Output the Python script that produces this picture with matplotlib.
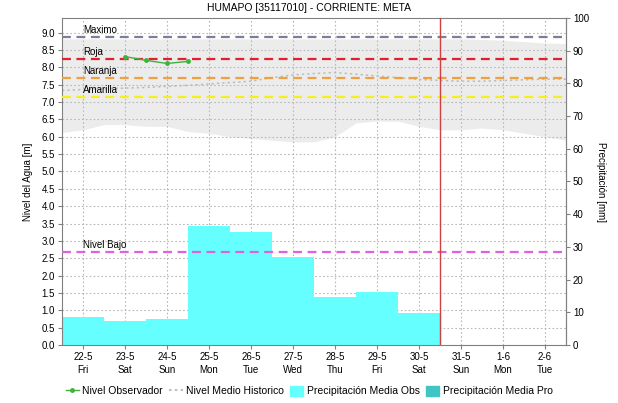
import matplotlib
matplotlib.use("Agg")
import matplotlib.pyplot as plt
import numpy as np


# ------------------ DATA ------------------

day_labels = ["22-5\nFri", "23-5\nSat", "24-5\nSun", "25-5\nMon", "26-5\nTue", "27-5\nWed",
              "28-5\nThu", "29-5\nFri", "30-5\nSat", "31-5\nSun", "1-6\nMon", "2-6\nTue"]

# precipitation observed per day [mm] (22-5 .. 30-5)
precip_obs = [8.6, 7.4, 7.8, 36.5, 34.5, 26.8, 14.8, 16.3, 9.7]

# observed level (every 12 h from 23-5)
obs_x = [1.0, 1.5, 2.0, 2.5]
obs_level = [8.31, 8.20, 8.11, 8.17]

# historic band / mean, sampled every half day
hist_x = [-0.5, 0, 0.5, 1, 1.5, 2, 2.5, 3, 3.5, 4, 4.5, 5, 5.5, 6, 6.5, 7, 7.5,
          8, 8.5, 9, 9.5, 10, 10.5, 11, 11.5]
hist_low = [6.12, 6.2, 6.35, 6.35, 6.3, 6.3, 6.15, 6.1, 6.0, 5.95, 5.9, 5.85, 5.85,
            6.0, 6.4, 6.45, 6.45, 6.3, 6.2, 6.2, 6.25, 6.2, 6.1, 6.0, 5.9]
hist_high = [8.82, 8.82, 8.82, 8.82, 8.82, 8.82, 8.82, 8.82, 8.82, 8.82, 8.82, 8.82, 8.82,
             8.82, 8.82, 8.82, 8.82, 8.82, 8.82, 8.82, 8.8, 8.78, 8.74, 8.7, 8.68]
hist_mean = [7.33, 7.36, 7.38, 7.40, 7.42, 7.45, 7.48, 7.52, 7.56, 7.6, 7.7, 7.78, 7.82,
             7.85, 7.8, 7.75, 7.7, 7.65, 7.62, 7.6, 7.6, 7.62, 7.64, 7.66, 7.66]

# alert thresholds [m]
thresholds = {
    "Maximo": (8.86, "#7a7f9a"),
    "Roja": (8.25, "#e0202a"),
    "Naranja": (7.69, "#f0a040"),
    "Amarilla": (7.14, "#f4f020"),
    "Nivel Bajo": (2.67, "#e060e0"),
}

now_day = 8.5
LEVEL_TOP = 9.42      # left axis top, equals 100 mm on the right axis
PRECIP_TOP = 100.0


# ------------------ PLOT ------------------

plt.rcParams["font.family"] = ["Liberation Sans", "DejaVu Sans"]
plt.rcParams["font.size"] = 7

fig = plt.figure(figsize=(6.18, 4.03), dpi=100)
ax = fig.add_axes([62 / 618, 1 - 345 / 403, (566 - 62) / 618, (345 - 18) / 403])

k = LEVEL_TOP / PRECIP_TOP
days = np.arange(len(day_labels))

ax.fill_between(hist_x, hist_low, hist_high, color="#ececec", lw=0, zorder=0.2)

ax.bar(np.arange(len(precip_obs)), np.array(precip_obs) * k, width=1.0,
       color="#66ffff", lw=0, zorder=1)

ax.plot(hist_x, hist_mean, color="#bcbcbc", ls=(0, (1.5, 2)), lw=1.1, zorder=2)

for name, (lvl, col) in thresholds.items():
    ax.axhline(lvl, color=col, ls=(0, (4, 2.5)), lw=1.6, zorder=3)
    ax.text(0, lvl + 0.06, name, ha="left", va="bottom", fontsize=7, zorder=4)

ax.plot(obs_x, obs_level, color="#3cb43c", lw=1, marker="o", ms=2.5, zorder=5)

ax.axvline(now_day, color="#d04040", lw=1, zorder=5)

ax.set_xlim(-0.5, 11.5)
ax.set_ylim(0, LEVEL_TOP)
ax.set_xticks(days)
ax.set_xticklabels(day_labels, linespacing=1.4)
ax.set_yticks(np.arange(0, 9.01, 0.5))
ax.set_yticklabels([f"{v:.1f}" for v in np.arange(0, 9.01, 0.5)])
ax.set_axisbelow(True)
ax.grid(True, color="#b8b8b8", ls=(0, (1.5, 2)), lw=0.8)
ax.tick_params(length=3, color="#808080", pad=2)
for sp in ax.spines.values():
    sp.set_color("#808080")
ax.set_ylabel("Nivel del Agua [m]", labelpad=6)

sec = ax.secondary_yaxis("right", functions=(lambda m: m / k, lambda p: p * k))
sec.set_yticks(np.arange(0, 101, 10))
sec.tick_params(length=3, color="#808080", pad=2)
sec.spines["right"].set_color("#808080")
sec.set_ylabel("Precipitación [mm]", rotation=-90, labelpad=12)

fig.text(0.5, 1 - 8 / 403, "HUMAPO [35117010] - CORRIENTE: META", ha="center", va="center",
         fontsize=7.5)

handles = [
    plt.Line2D([], [], color="#3cb43c", marker="o", ms=2.5, lw=1),
    plt.Line2D([], [], color="#b0b0b0", ls=(0, (1.5, 2)), lw=1.2),
    plt.Rectangle((0, 0), 1, 1, color="#66ffff"),
    plt.Rectangle((0, 0), 1, 1, color="#40c4c4"),
]
labels = ["Nivel Observador", "Nivel Medio Historico", "Precipitación Media Obs",
          "Precipitación Media Pro"]
fig.legend(handles, labels, loc="center", bbox_to_anchor=(0.5, 1 - 391 / 403), ncol=4,
           frameon=False, fontsize=7.5, handlelength=1.3, handleheight=1.2,
           handletextpad=0.3, columnspacing=0.6)

fig.savefig("out.png", dpi=100)
